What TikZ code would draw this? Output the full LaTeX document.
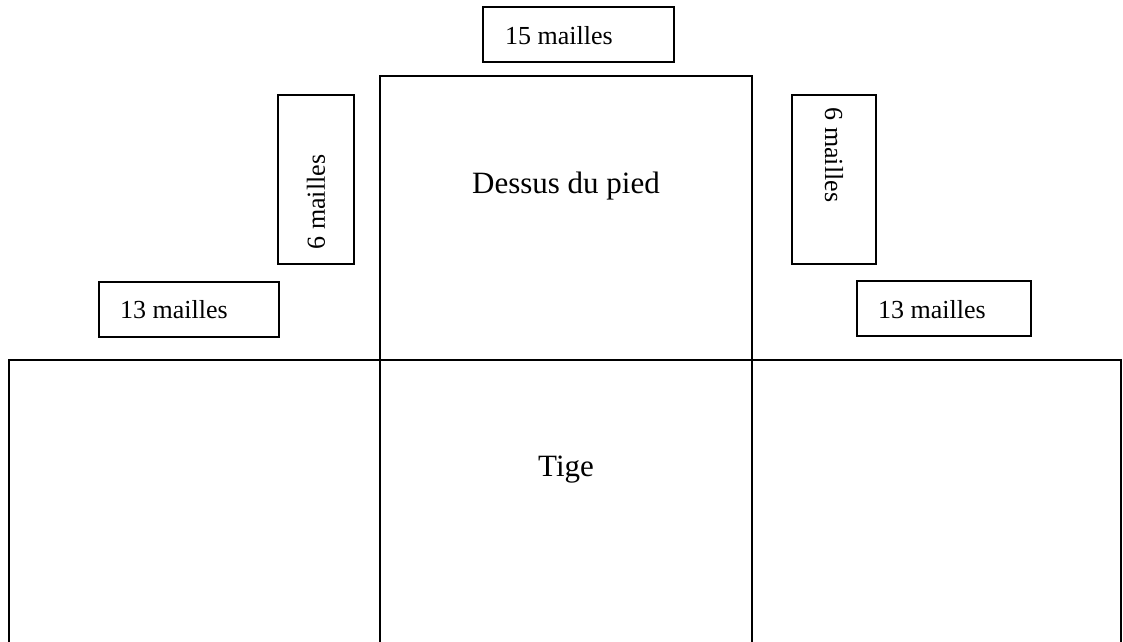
\documentclass[tikz,border=0pt]{standalone}
\usepackage{fontspec}
\setmainfont{Liberation Serif}
\begin{document}
\begin{tikzpicture}[x=1pt,y=-1pt,
  box/.style={draw,line width=1.6pt,inner sep=0pt,outer sep=0pt,anchor=north west},
  lbl/.style={inner sep=0pt,font=\fontsize{26}{30}\selectfont},
  big/.style={inner sep=0pt,font=\fontsize{31}{36}\selectfont}]
\useasboundingbox (0,0) rectangle (1123,641);
% top box
\node[box,minimum width=191pt,minimum height=55pt] (top) at (483,7) {};
\node[lbl] (toplbl) at (559,36) {15 mailles};
% dessus du pied
\node[box,minimum width=372pt,minimum height=284pt] (dessus) at (380,76) {};
\node[big] (dessuslbl) at (566,186) {Dessus du pied};
% vertical boxes
\node[box,minimum width=76pt,minimum height=169pt] (lv) at (278,95) {};
\node[lbl,rotate=90] (lvlbl) at (316,202) {6 mailles};
\node[box,minimum width=84pt,minimum height=169pt] (rv) at (792,95) {};
\node[lbl,rotate=-90] (rvlbl) at (834,155) {6 mailles};
% 13 mailles boxes
\node[box,minimum width=180pt,minimum height=55pt] (lh) at (99,282) {};
\node[lbl] (lhlbl) at (174,310) {13 mailles};
\node[box,minimum width=174pt,minimum height=55pt] (rh) at (857,281) {};
\node[lbl] (rhlbl) at (932,310) {13 mailles};
% tige
\node[box,minimum width=371pt,minimum height=310pt] (tl) at (9,360) {};
\node[box,minimum width=372pt,minimum height=310pt] (tm) at (380,360) {};
\node[box,minimum width=369pt,minimum height=310pt] (tr) at (752,360) {};
\node[big] (tigelbl) at (566,470) {Tige};
\end{tikzpicture}
\end{document}
